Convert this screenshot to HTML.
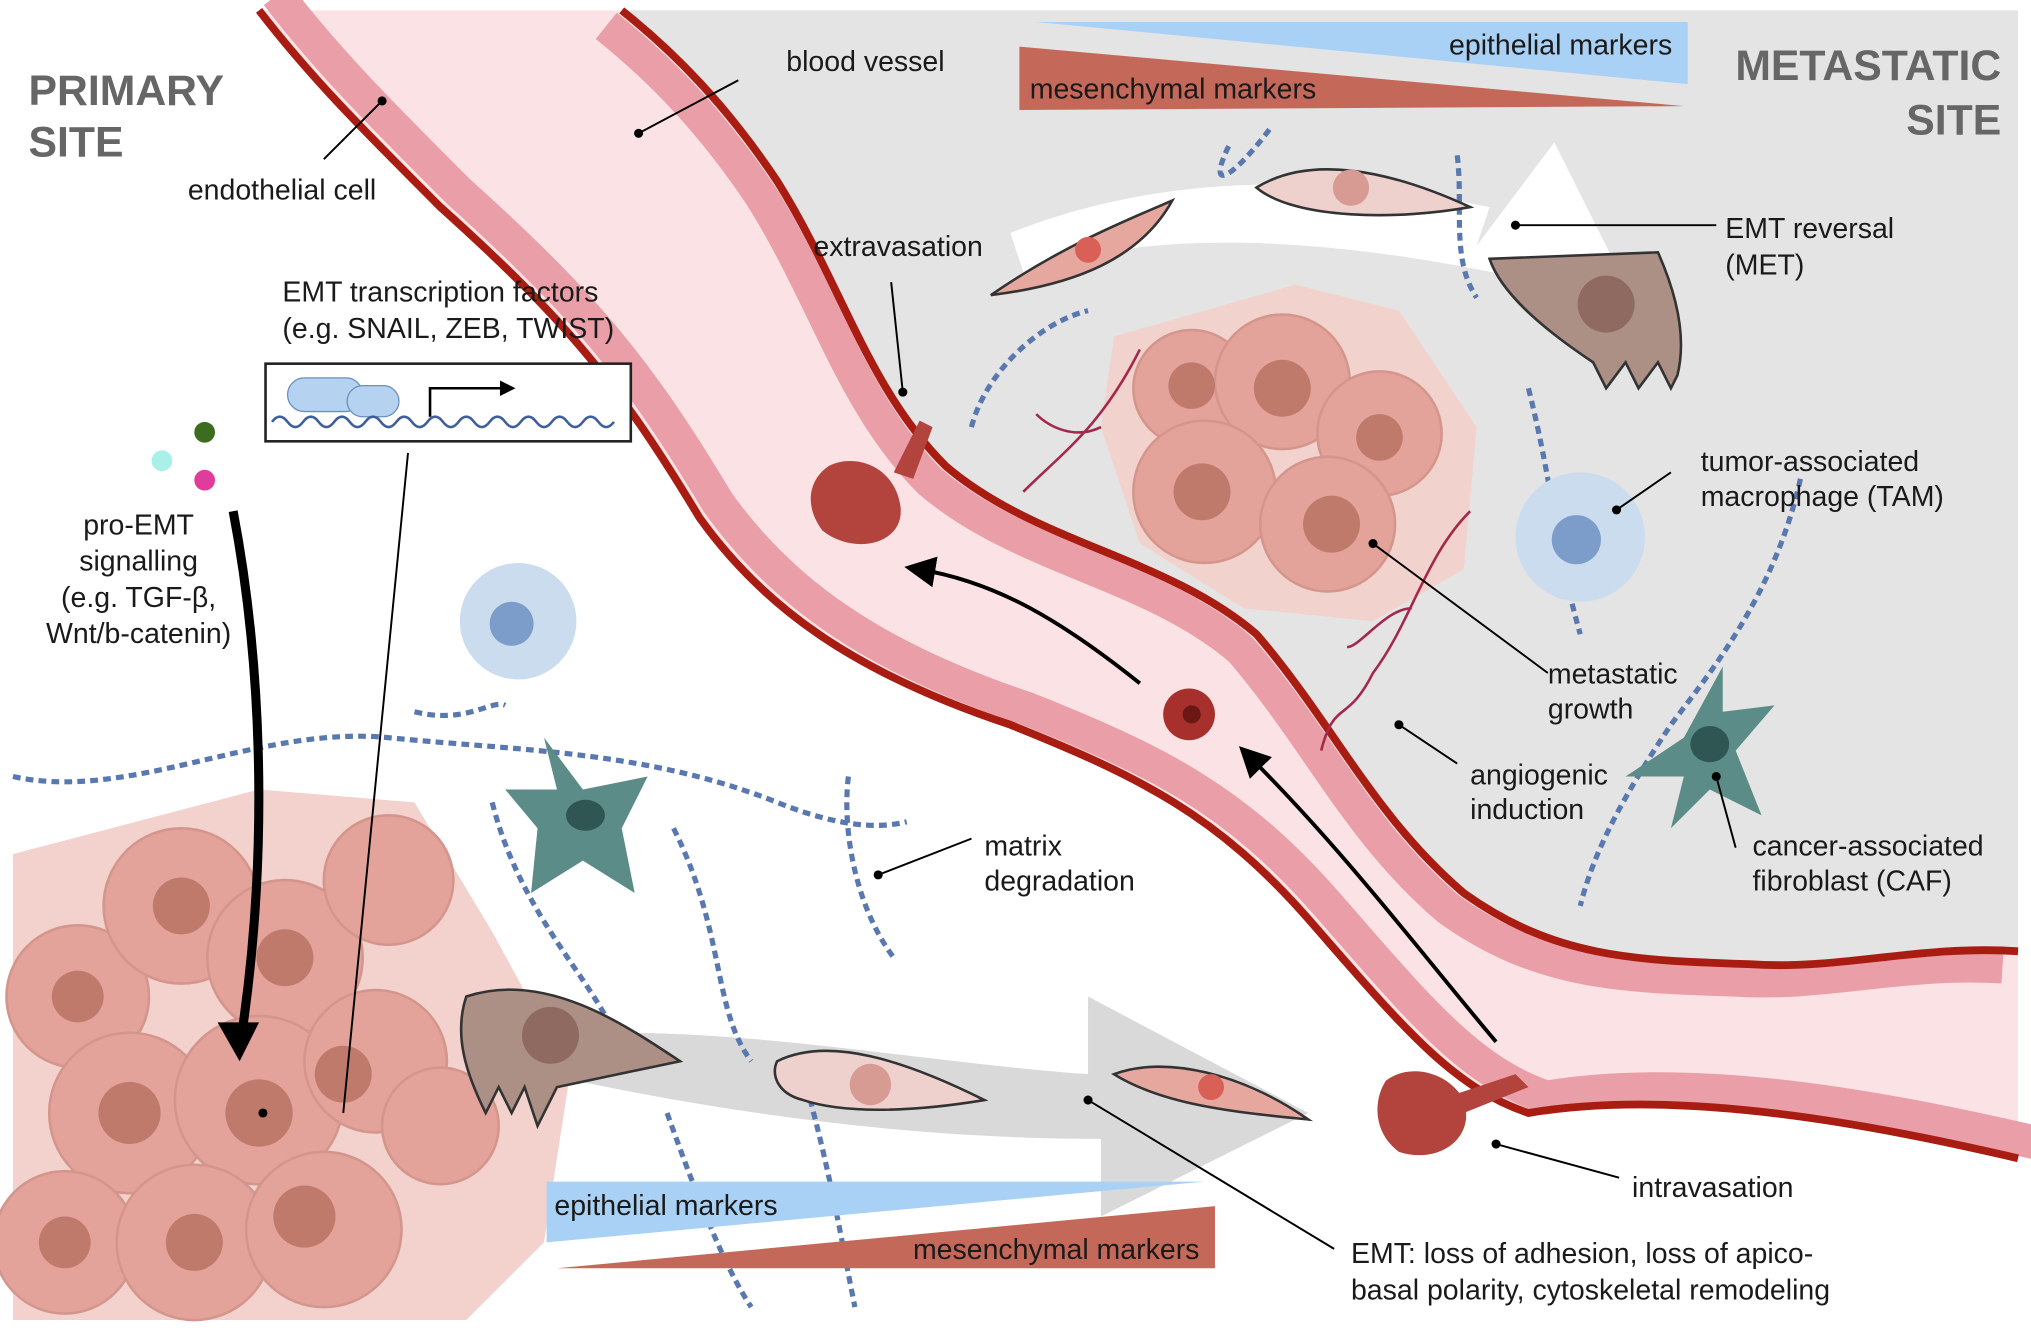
<!DOCTYPE html>
<html><head><meta charset="utf-8"><style>
html,body{margin:0;padding:0;background:#fff}
svg{display:block}
text{font-family:"Liberation Sans",sans-serif;fill:#1a1a1a}
</style></head><body>
<svg width="2031" height="1333" viewBox="0 0 1568 1030" preserveAspectRatio="none" xmlns="http://www.w3.org/2000/svg">
<rect width="1568" height="1030" fill="#fff"/>
<path d="M480,8 L1558,8 L1558,735 C1480,730 1420,750 1350,745 C1260,742 1200,740 1130,690 C1060,630 1030,560 970,490 C900,430 800,420 730,360 C670,300 650,220 600,140 C560,80 520,40 480,8 Z" fill="#e4e4e4"/>
<path d="M200,8 L480,8 C520,40 560,80 600,140 C650,220 670,300 730,360 C800,420 900,430 970,490 C1030,560 1060,630 1130,690 C1200,740 1260,742 1350,745 C1420,750 1480,730 1558,735 L1558,895 C1450,870 1300,840 1180,860 C1120,840 1080,790 1010,710 C940,630 880,600 780,560 C660,520 590,470 540,400 C480,300 440,250 340,160 C280,100 240,60 200,8 Z" fill="#fbe3e5"/>
<path d="M200,8 C240,60 280,100 340,160 C440,250 480,300 540,400 C590,470 660,520 780,560 C880,600 940,630 1010,710 C1080,790 1120,840 1180,860 C1300,840 1450,870 1558,895" fill="none" stroke="#ea9fa8" stroke-width="26" transform="translate(14,-12)"/>
<path d="M480,8 C520,40 560,80 600,140 C650,220 670,300 730,360 C800,420 900,430 970,490 C1030,560 1060,630 1130,690 C1200,740 1260,742 1350,745 C1420,750 1480,730 1558,735" fill="none" stroke="#ea9fa8" stroke-width="26" transform="translate(-12,12)"/>
<path d="M200,8 C240,60 280,100 340,160 C440,250 480,300 540,400 C590,470 660,520 780,560 C880,600 940,630 1010,710 C1080,790 1120,840 1180,860 C1300,840 1450,870 1558,895" fill="none" stroke="#a91c12" stroke-width="6"/>
<path d="M480,8 C520,40 560,80 600,140 C650,220 670,300 730,360 C800,420 900,430 970,490 C1030,560 1060,630 1130,690 C1200,740 1260,742 1350,745 C1420,750 1480,730 1558,735" fill="none" stroke="#a91c12" stroke-width="6"/>

<g fill="#e3a39a" stroke="#d4968c" stroke-width="2">
<path d="M10,660 L200,610 L320,620 L380,720 L440,830 L420,960 L360,1020 L10,1020 Z" fill="#f3d2cd" stroke="none"/>
<circle cx="60" cy="770" r="55"/><circle cx="140" cy="700" r="60"/><circle cx="220" cy="740" r="60"/>
<circle cx="300" cy="680" r="50"/><circle cx="100" cy="860" r="62"/><circle cx="200" cy="850" r="65"/>
<circle cx="290" cy="820" r="55"/><circle cx="50" cy="960" r="55"/><circle cx="150" cy="960" r="60"/>
<circle cx="250" cy="950" r="60"/><circle cx="340" cy="870" r="45"/>
</g>
<g fill="#c07a6c"><circle cx="60" cy="770" r="20"/><circle cx="140" cy="700" r="22"/><circle cx="220" cy="740" r="22"/><circle cx="100" cy="860" r="24"/><circle cx="200" cy="860" r="26"/><circle cx="265" cy="830" r="22"/><circle cx="150" cy="960" r="22"/><circle cx="235" cy="940" r="24"/><circle cx="50" cy="960" r="20"/></g>

<g fill="#e3a39a" stroke="#d4968c" stroke-width="2">
<path d="M860,260 L1000,220 L1080,240 L1140,330 L1130,440 L1060,480 L960,470 L880,420 L850,330Z" fill="#f2d2cc" stroke="none"/>
<circle cx="920" cy="300" r="45"/><circle cx="990" cy="295" r="52"/><circle cx="1065" cy="335" r="48"/>
<circle cx="930" cy="380" r="55"/><circle cx="1025" cy="405" r="52"/>
</g>
<g fill="#c07a6c"><circle cx="920" cy="298" r="18"/><circle cx="990" cy="300" r="22"/><circle cx="1065" cy="338" r="18"/><circle cx="928" cy="380" r="22"/><circle cx="1028" cy="405" r="22"/></g>
<g fill="none" stroke="#a5284a" stroke-width="2">
<path d="M880,270 C850,330 820,350 790,380 M850,330 C830,340 810,330 800,320"/>
<path d="M1135,395 C1100,430 1090,480 1060,520 C1040,560 1030,540 1020,580 M1090,470 C1070,470 1050,500 1040,500"/>
</g>

<path d="M420,800 C560,790 700,820 840,830 L840,770 L1010,860 L850,940 L850,880 C700,880 560,860 420,830 Z" fill="#d9d9d9"/>
<path d="M780,180 C880,140 1000,130 1150,160 L1140,190 L1200,110 L1260,230 L1150,210 C1000,180 880,180 790,210 Z" fill="#fff"/>

<g fill="none" stroke="#5a78b0" stroke-width="4" stroke-dasharray="6 4">
<path d="M10,600 C100,620 200,560 300,570 C400,580 500,580 600,620 C650,640 680,640 700,635"/>
<path d="M320,550 C360,560 380,540 390,545"/>
<path d="M380,620 C400,700 450,750 470,790"/>
<path d="M520,640 C560,720 550,780 580,820"/>
<path d="M655,600 C650,640 660,700 690,740"/>
<path d="M515,860 C540,930 560,980 580,1010"/>
<path d="M620,830 C640,900 650,960 660,1010"/>
<path d="M980,100 C950,140 930,150 950,110 M1125,120 C1130,160 1120,200 1140,230"/>
<path d="M750,330 C760,290 800,250 840,240"/>
<path d="M1180,300 C1200,380 1200,420 1220,490"/>
<path d="M1390,370 C1370,460 1320,520 1290,560 C1250,620 1230,660 1220,700"/>
</g>

<circle cx="400" cy="480" r="45" fill="#cbdcee"/><circle cx="395" cy="482" r="17" fill="#7c9cc9"/>
<circle cx="1220" cy="415" r="50" fill="#cbdcee"/><circle cx="1217" cy="417" r="19" fill="#7c9cc9"/>
<path d="M420,570 L450,610 L500,600 L480,640 L490,690 L450,665 L410,690 L415,640 L390,610 L430,610 Z" fill="#5b8c87"/>
<ellipse cx="452" cy="630" rx="15" ry="12" fill="#2f5652"/>
<path d="M1330,515 L1330,550 L1370,545 L1340,580 L1360,630 L1320,610 L1290,640 L1300,600 L1255,600 L1300,570 Z" fill="#5b8c87"/>
<ellipse cx="1320" cy="575" rx="15" ry="14" fill="#2f5652"/>

<g stroke="#333" stroke-width="2">
<path d="M360,770 C420,750 480,790 525,820 L430,840 L415,870 L405,840 L395,860 L385,840 L375,860 C360,830 350,800 360,770Z" fill="#ac8f85"/>
<circle cx="425" cy="800" r="22" fill="#8f6a60" stroke="none"/>
<path d="M600,820 C640,800 700,820 760,850 C700,860 650,860 620,850 C600,845 595,830 600,820Z" fill="#eed0cc"/>
<path d="M860,830 C900,815 960,830 1010,865 C960,860 900,855 860,830Z" fill="#e6a79f"/>
<path d="M765,228 C820,190 870,170 905,155 C880,200 830,220 765,228Z" fill="#e6a79f"/>
<path d="M970,145 C1010,120 1070,130 1135,160 C1080,170 1000,170 970,145Z" fill="#eed0cc"/>
<path d="M1150,200 L1280,195 C1300,240 1300,270 1295,290 L1290,300 L1280,280 L1265,300 L1255,280 L1240,300 L1230,280 C1200,260 1160,230 1150,200Z" fill="#ac8f85"/>
<circle cx="1240" cy="235" r="22" fill="#8f6a60" stroke="none"/>
</g>
<circle cx="672" cy="838" r="16" fill="#d89b94"/><circle cx="935" cy="840" r="10" fill="#d96057"/>
<circle cx="840" cy="193" r="10" fill="#d96057"/><circle cx="1043" cy="145" r="14" fill="#d89b94"/>
<path d="M640,360 C660,350 690,360 695,390 C700,420 660,430 635,410 C620,390 625,370 640,360Z M690,365 L710,325 L720,330 L705,370Z" fill="#b3433d"/>
<circle cx="918" cy="552" r="20" fill="#a8302c"/><circle cx="920" cy="552" r="7" fill="#6b1714"/>
<path d="M1070,835 C1090,820 1120,830 1130,850 C1140,880 1110,900 1080,890 C1060,875 1060,850 1070,835Z M1125,845 L1170,830 L1180,840 L1130,860Z" fill="#b3433d"/>

<defs><marker id="ah" markerWidth="8" markerHeight="8" refX="4" refY="4" orient="auto"><path d="M0,0 L8,4 L0,8 Z" fill="#000"/></marker></defs>
<path d="M180,395 C200,500 210,650 185,810" fill="none" stroke="#000" stroke-width="7"/>
<path d="M168,790 L185,820 L200,790 Z" fill="#000"/>
<path d="M1155,805 C1100,740 1040,660 965,585" fill="none" stroke="#000" stroke-width="3" marker-end="url(#ah)"/>
<path d="M880,528 C820,480 770,450 710,440" fill="none" stroke="#000" stroke-width="3" marker-end="url(#ah)"/>

<path d="M800,17 L1303,17 L1303,65 Z" fill="#a9d1f5"/>
<path d="M787,36 L787,85 L1300,82 Z" fill="#c4695a"/>
<path d="M422,913 L930,913 L422,960 Z" fill="#a9d1f5"/>
<path d="M430,980 L938,932 L938,980 Z" fill="#c4695a"/>

<rect x="205" y="281" width="282" height="60" fill="#fff" stroke="#222" stroke-width="2"/>
<rect x="222" y="292" width="58" height="26" rx="13" fill="#b5d2f0" stroke="#6b8fc0"/>
<rect x="268" y="298" width="40" height="24" rx="12" fill="#b5d2f0" stroke="#6b8fc0"/>
<path d="M210,326 Q216,318 222,326 T234,326 T246,326 T258,326 T270,326 T282,326 T294,326 T306,326 T318,326 T330,326 T342,326 T354,326 T366,326 T378,326 T390,326 T402,326 T414,326 T426,326 T438,326 T450,326 T462,326 T474,326" fill="none" stroke="#3f5f9c" stroke-width="2"/>
<path d="M332,322 L332,300 L390,300" fill="none" stroke="#000" stroke-width="2"/><path d="M386,294 L398,300 L386,306Z"/>
<circle cx="158" cy="334" r="8" fill="#3c6d1e"/><circle cx="125" cy="356" r="8" fill="#a8f0e8"/><circle cx="158" cy="371" r="8" fill="#e03c9c"/>

<g stroke="#000" stroke-width="1.5" fill="none">
<path d="M250,123 L295,78"/><path d="M493,103 L570,62"/><path d="M688,218 L697,303"/>
<path d="M1170,174 L1325,174"/><path d="M1248,394 L1290,365"/><path d="M1060,420 L1195,520"/>
<path d="M1080,560 L1125,590"/><path d="M1325,600 L1340,655"/><path d="M678,676 L750,648"/>
<path d="M1155,884 L1250,910"/><path d="M840,850 L1030,965"/><path d="M315,350 L265,860"/>
</g>
<g fill="#000"><circle cx="295" cy="78" r="3.5"/><circle cx="493" cy="103" r="3.5"/><circle cx="697" cy="303" r="3.5"/><circle cx="1170" cy="174" r="3.5"/><circle cx="1248" cy="394" r="3.5"/><circle cx="1060" cy="420" r="3.5"/><circle cx="1080" cy="560" r="3.5"/><circle cx="1325" cy="600" r="3.5"/><circle cx="678" cy="676" r="3.5"/><circle cx="1155" cy="884" r="3.5"/><circle cx="840" cy="850" r="3.5"/><circle cx="203" cy="860" r="3.5"/></g>

<g font-size="22">
<text x="22" y="81" font-size="33" font-weight="bold" style="fill:#666">PRIMARY</text>
<text x="22" y="121" font-size="33" font-weight="bold" style="fill:#666">SITE</text>
<text x="1545" y="62" font-size="33" font-weight="bold" text-anchor="end" style="fill:#666">METASTATIC</text>
<text x="1545" y="104" font-size="33" font-weight="bold" text-anchor="end" style="fill:#666">SITE</text>
<text x="145" y="154">endothelial cell</text>
<text x="607" y="55">blood vessel</text>
<text x="1291" y="42" text-anchor="end">epithelial markers</text>
<text x="795" y="76">mesenchymal markers</text>
<text x="628" y="198">extravasation</text>
<text x="1332" y="184">EMT reversal</text><text x="1332" y="212">(MET)</text>
<text x="218" y="233">EMT transcription factors</text>
<text x="218" y="261">(e.g. SNAIL, ZEB, TWIST)</text>
<text x="107" y="413" text-anchor="middle">pro-EMT</text>
<text x="107" y="441" text-anchor="middle">signalling</text>
<text x="107" y="469" text-anchor="middle">(e.g. TGF-β,</text>
<text x="107" y="497" text-anchor="middle">Wnt/b-catenin)</text>
<text x="1313" y="364">tumor-associated</text><text x="1313" y="391">macrophage (TAM)</text>
<text x="1195" y="528">metastatic</text><text x="1195" y="555">growth</text>
<text x="1135" y="606">angiogenic</text><text x="1135" y="633">induction</text>
<text x="1353" y="661">cancer-associated</text><text x="1353" y="688">fibroblast (CAF)</text>
<text x="760" y="661">matrix</text><text x="760" y="688">degradation</text>
<text x="1260" y="925">intravasation</text>
<text x="428" y="939">epithelial markers</text>
<text x="926" y="973" text-anchor="end">mesenchymal markers</text>
<text x="1043" y="976">EMT: loss of adhesion, loss of apico-</text>
<text x="1043" y="1004">basal polarity, cytoskeletal remodeling</text>
</g>
</svg>
</body></html>
